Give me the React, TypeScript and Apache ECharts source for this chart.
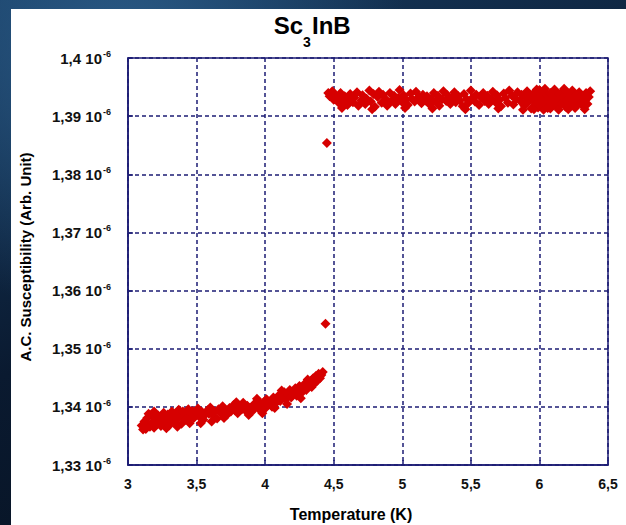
import React, { useEffect, useRef } from "react";
import * as echarts from "echarts";

// Temperature (K) / susceptibility (×10⁻⁶, arb. unit)
const lowPhase: [number, number][] = [
  [3.10, 1.3368], [3.12, 1.3375], [3.13, 1.3362], [3.14, 1.3381], [3.15, 1.3370],
  [3.16, 1.3366], [3.17, 1.3386], [3.18, 1.3374], [3.19, 1.3364], [3.20, 1.3379],
  [3.21, 1.3370], [3.22, 1.3385], [3.23, 1.3376], [3.24, 1.3367], [3.25, 1.3382],
  [3.26, 1.3390], [3.27, 1.3372], [3.28, 1.3380], [3.29, 1.3387], [3.30, 1.3368],
  [3.31, 1.3378], [3.32, 1.3392], [3.33, 1.3383], [3.34, 1.3374], [3.35, 1.3389],
  [3.36, 1.3380], [3.37, 1.3395], [3.38, 1.3386], [3.39, 1.3371], [3.40, 1.3392],
  [3.41, 1.3384], [3.42, 1.3378], [3.43, 1.3390], [3.44, 1.3396], [3.45, 1.3372],
  [3.46, 1.3387], [3.47, 1.3393], [3.48, 1.3381], [3.50, 1.3389], [3.51, 1.3397],
  [3.52, 1.3383], [3.54, 1.3391], [3.55, 1.3378], [3.56, 1.3386], [3.58, 1.3394],
  [3.59, 1.3388], [3.60, 1.3399], [3.62, 1.3385], [3.63, 1.3392], [3.65, 1.3380],
  [3.66, 1.3396], [3.68, 1.3389], [3.69, 1.3401], [3.71, 1.3393], [3.72, 1.3386],
  [3.74, 1.3398], [3.75, 1.3392], [3.77, 1.3403], [3.78, 1.3394], [3.80, 1.3389],
  [3.81, 1.3400], [3.83, 1.3396], [3.84, 1.3407], [3.86, 1.3393], [3.87, 1.3402],
  [3.89, 1.3398], [3.90, 1.3391], [3.92, 1.3405], [3.93, 1.3399], [3.95, 1.3410],
  [3.96, 1.3395], [3.97, 1.3403], [3.99, 1.3408], [4.00, 1.3397], [4.01, 1.3413],
  [4.02, 1.3404], [4.04, 1.3409], [4.05, 1.3400], [4.06, 1.3416], [4.08, 1.3407],
  [4.09, 1.3412], [4.10, 1.3420], [4.11, 1.3410], [4.13, 1.3417], [4.14, 1.3425],
  [4.15, 1.3413], [4.17, 1.3421], [4.18, 1.3429], [4.19, 1.3416], [4.20, 1.3424],
  [4.22, 1.3432], [4.23, 1.3419], [4.24, 1.3428], [4.25, 1.3436], [4.27, 1.3425],
  [4.28, 1.3433], [4.29, 1.3440], [4.30, 1.3429], [4.32, 1.3438], [4.33, 1.3444],
  [4.34, 1.3434], [4.35, 1.3449], [4.36, 1.3440], [4.37, 1.3453], [4.38, 1.3445],
  [4.39, 1.3457], [4.40, 1.3449], [4.41, 1.3455], [4.42, 1.3460],
  [3.11, 1.3361], [3.15, 1.3388], [3.19, 1.3392], [3.28, 1.3363], [3.36, 1.3366],
  [3.44, 1.3377], [3.53, 1.3372], [3.61, 1.3375], [3.70, 1.3381], [3.79, 1.3408],
  [3.88, 1.3386], [3.98, 1.3389], [4.07, 1.3398], [4.16, 1.3405], [4.26, 1.3415],
  [4.31, 1.3447], [4.12, 1.3428], [3.94, 1.3414],
];

const transition: [number, number][] = [
  [4.44, 1.3543], [4.45, 1.3854],
];

const highPhase: [number, number][] = [
  [4.46, 1.3940], [4.47, 1.3934], [4.49, 1.3943], [4.50, 1.3928], [4.51, 1.3937],
  [4.53, 1.3931], [4.54, 1.3922], [4.55, 1.3940], [4.57, 1.3926], [4.58, 1.3934],
  [4.60, 1.3919], [4.61, 1.3929], [4.62, 1.3938], [4.64, 1.3924], [4.65, 1.3932],
  [4.67, 1.3941], [4.68, 1.3918], [4.70, 1.3927], [4.71, 1.3936], [4.73, 1.3921],
  [4.74, 1.3930], [4.76, 1.3944], [4.77, 1.3925], [4.79, 1.3938], [4.80, 1.3916],
  [4.82, 1.3933], [4.83, 1.3942], [4.85, 1.3923], [4.86, 1.3937], [4.88, 1.3929],
  [4.89, 1.3918], [4.91, 1.3940], [4.92, 1.3926], [4.94, 1.3935], [4.95, 1.3921],
  [4.97, 1.3931], [4.98, 1.3945], [5.00, 1.3924], [5.01, 1.3936], [5.03, 1.3928],
  [5.04, 1.3919], [5.06, 1.3939], [5.07, 1.3930], [5.09, 1.3925], [5.10, 1.3942],
  [5.12, 1.3933], [5.14, 1.3922], [5.15, 1.3937], [5.17, 1.3927], [5.18, 1.3934],
  [5.20, 1.3920], [5.21, 1.3930], [5.23, 1.3940], [5.24, 1.3925], [5.26, 1.3935],
  [5.27, 1.3918], [5.29, 1.3929], [5.30, 1.3943], [5.32, 1.3926], [5.33, 1.3936],
  [5.35, 1.3921], [5.36, 1.3932], [5.38, 1.3941], [5.39, 1.3924], [5.41, 1.3934],
  [5.42, 1.3927], [5.44, 1.3917], [5.45, 1.3938], [5.47, 1.3929], [5.48, 1.3922],
  [5.50, 1.3944], [5.51, 1.3931], [5.53, 1.3925], [5.54, 1.3937], [5.56, 1.3919],
  [5.57, 1.3933], [5.59, 1.3940], [5.60, 1.3926], [5.62, 1.3935], [5.63, 1.3921],
  [5.65, 1.3930], [5.66, 1.3942], [5.68, 1.3924], [5.69, 1.3936], [5.71, 1.3928],
  [5.72, 1.3917], [5.74, 1.3939], [5.75, 1.3931], [5.77, 1.3923], [5.78, 1.3944],
  [5.80, 1.3935], [5.81, 1.3920], [5.83, 1.3929], [5.84, 1.3941], [5.86, 1.3926],
  [5.87, 1.3937], [5.89, 1.3918], [5.90, 1.3932], [5.91, 1.3943], [5.92, 1.3925],
  [5.93, 1.3936], [5.94, 1.3913], [5.95, 1.3929], [5.96, 1.3940], [5.97, 1.3921],
  [5.98, 1.3934], [5.99, 1.3915], [6.00, 1.3927], [6.00, 1.3945], [6.01, 1.3938],
  [6.02, 1.3919], [6.03, 1.3931], [6.04, 1.3942], [6.05, 1.3924], [6.06, 1.3936],
  [6.06, 1.3914], [6.07, 1.3929], [6.08, 1.3940], [6.09, 1.3921], [6.10, 1.3933],
  [6.11, 1.3946], [6.12, 1.3926], [6.13, 1.3917], [6.14, 1.3938], [6.15, 1.3930],
  [6.16, 1.3922], [6.17, 1.3943], [6.18, 1.3934], [6.19, 1.3916], [6.20, 1.3927],
  [6.21, 1.3939], [6.22, 1.3920], [6.23, 1.3932], [6.24, 1.3944], [6.25, 1.3925],
  [6.26, 1.3936], [6.27, 1.3918], [6.28, 1.3930], [6.29, 1.3941], [6.30, 1.3923],
  [6.31, 1.3935], [6.32, 1.3917], [6.33, 1.3928], [6.34, 1.3940], [6.35, 1.3921],
  [6.36, 1.3933], [6.37, 1.3943],
  [4.56, 1.3914], [4.78, 1.3912], [5.02, 1.3914], [5.22, 1.3913], [5.46, 1.3912],
  [5.70, 1.3913], [5.88, 1.3911], [5.96, 1.3912], [6.03, 1.3911], [6.08, 1.3913],
  [6.14, 1.3911], [6.21, 1.3912], [6.26, 1.3914], [6.33, 1.3912], [6.04, 1.3947],
  [6.18, 1.3947], [5.98, 1.3946],
];

const xRange = { min: 3, max: 6.5, interval: 0.5 };
const yRange = { min: 1.33, max: 1.4, interval: 0.01 };
const titleParts = { main: "Sc", sub: "3", rest: "InB" };
const xTitle = "Temperature (K)";
const yTitle = "A.C. Susceptibility (Arb. Unit)";

const FONT = "'Liberation Sans', Arial, sans-serif";
const NAVY = "#1c1c74";
const RED = "#d60000";

export default function App() {
  const ref = useRef<HTMLDivElement>(null);

  useEffect(() => {
    if (!ref.current) return;
    const chart = echarts.init(ref.current, null, { renderer: "svg" });
    const marker = {
      type: "scatter" as const,
      symbol: "diamond",
      symbolSize: 10,
      itemStyle: { color: RED, opacity: 1 },
    };
    chart.setOption({
      animation: false,
      backgroundColor: "transparent",
      grid: {
        left: 128,
        right: 18,
        top: 58,
        bottom: 60,
        show: true,
        borderColor: NAVY,
        borderWidth: 1.5,
        backgroundColor: "transparent",
      },
      xAxis: {
        type: "value",
        min: xRange.min,
        max: xRange.max,
        interval: xRange.interval,
        axisLine: { show: true, lineStyle: { color: NAVY, width: 1.5 } },
        axisTick: { show: true, inside: true, length: 5, lineStyle: { color: NAVY, width: 1.5 } },
        splitLine: { show: true, lineStyle: { color: NAVY, width: 1.5, type: [4, 3] } },
        axisLabel: {
          margin: 12,
          color: "#111",
          fontFamily: FONT,
          fontWeight: "bold",
          fontSize: 14,
          formatter: (v: number) => String(Math.round(v * 10) / 10).replace(".", ","),
        },
      },
      yAxis: {
        type: "value",
        min: yRange.min,
        max: yRange.max,
        interval: yRange.interval,
        axisLine: { show: true, lineStyle: { color: NAVY, width: 1.5 } },
        axisTick: { show: true, inside: true, length: 5, lineStyle: { color: NAVY, width: 1.5 } },
        splitLine: { show: true, lineStyle: { color: NAVY, width: 1.5, type: [4, 3] } },
        axisLabel: {
          margin: 17,
          color: "#111",
          fontFamily: FONT,
          fontWeight: "bold",
          fontSize: 15,
          formatter: (v: number) =>
            "{n|" + String(Math.round(v * 100) / 100).replace(".", ",") + " 10}{s|-6}",
          rich: {
            n: { fontFamily: FONT, fontWeight: "bold", fontSize: 15, color: "#111", lineHeight: 17 },
            s: { fontFamily: FONT, fontWeight: "bold", fontSize: 9, color: "#111", verticalAlign: "top", lineHeight: 17, padding: [0, 0, 0, 1] },
          },
        },
      },
      graphic: [
        {
          type: "text",
          x: 303,
          y: 25,
          style: { text: titleParts.main, font: `bold 24px ${FONT}`, fill: "#000", textAlign: "right", textVerticalAlign: "middle" },
        },
        {
          type: "text",
          x: 303,
          y: 42,
          style: { text: titleParts.sub, font: `bold 14px ${FONT}`, fill: "#000", textAlign: "left", textVerticalAlign: "middle" },
        },
        {
          type: "text",
          x: 312,
          y: 25,
          style: { text: titleParts.rest, font: `bold 24px ${FONT}`, fill: "#000", textAlign: "left", textVerticalAlign: "middle" },
        },
        {
          type: "text",
          x: 351,
          y: 514,
          style: { text: xTitle, font: `bold 16px ${FONT}`, fill: "#000", textAlign: "center", textVerticalAlign: "middle" },
        },
        {
          type: "text",
          x: 25,
          y: 257,
          rotation: Math.PI / 2,
          style: { text: yTitle, font: `bold 15px ${FONT}`, fill: "#000", textAlign: "center", textVerticalAlign: "middle" },
        },
      ],
      series: [
        { ...marker, data: lowPhase },
        { ...marker, data: transition },
        { ...marker, data: highPhase },
      ],
    });
    return () => chart.dispose();
  }, []);

  return (
    <div
      style={{
        position: "fixed",
        left: 0,
        top: 0,
        width: 626,
        height: 525,
        background:
          "radial-gradient(ellipse at 20% 10%, #2a5a86 0%, rgba(20,50,80,0) 40%), linear-gradient(160deg, #183d63 0%, #0a1a30 50%, #06101e 100%)",
        overflow: "hidden",
      }}
    >
      <div style={{ position: "absolute", left: 11, top: 9, width: 615, height: 516, background: "#fff" }} />
      <div ref={ref} style={{ position: "absolute", left: 0, top: 0, width: 626, height: 525 }} />
    </div>
  );
}
